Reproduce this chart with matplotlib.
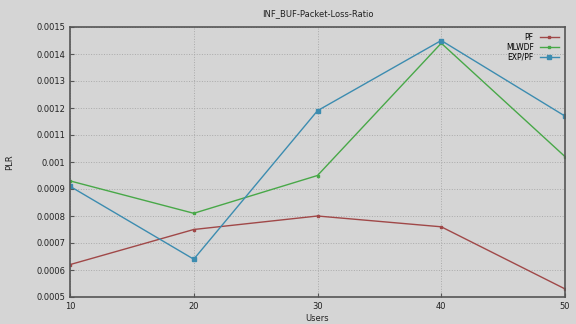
import matplotlib
matplotlib.use('Agg')
import matplotlib.pyplot as plt

users = [10, 20, 30, 40, 50]
pf = [0.00062, 0.00075, 0.00080, 0.00076, 0.00053]
mlwdf = [0.00093, 0.00081, 0.00095, 0.00144, 0.00102]
exp_pf = [0.00091, 0.00064, 0.00119, 0.00145, 0.00117]
yticks = [0.0005, 0.0006, 0.0007, 0.0008, 0.0009, 0.001, 0.0011, 0.0012, 0.0013, 0.0014, 0.0015]
ytick_labels = ['0.0005', '0.0006', '0.0007', '0.0008', '0.0009', '0.001', '0.0011', '0.0012', '0.0013', '0.0014', '0.0015']

bg = '#d5d5d5'
fig = plt.figure(figsize=(5.76, 3.24), dpi=100, facecolor=bg)
ax = fig.add_axes([70/576, 27/324, (565-70)/576, (297-27)/324])
ax.set_facecolor(bg)

ax.plot(users, pf, color='#a04848', lw=1, marker='s', ms=1.8, label='PF')
ax.plot(users, mlwdf, color='#48a848', lw=1, marker='s', ms=1.8, label='MLWDF')
ax.plot(users, exp_pf, color='#3c8cb0', lw=1, marker='s', ms=2.2, label='EXP/PF')

ax.set_xlim(10, 50)
ax.set_ylim(0.0005, 0.0015)
ax.set_xticks(users)
ax.set_yticks(yticks)
ax.set_yticklabels(ytick_labels)
ax.tick_params(labelsize=6, length=3, direction='in', color='#555555', labelcolor='#222222')
ax.grid(True, color='#aaaaaa', ls=':', lw=0.7)
for s in ax.spines.values():
    s.set_color('#555555')
    s.set_linewidth(1.2)

ax.set_title('INF_BUF-Packet-Loss-Ratio', fontsize=6, color='#222222', pad=8)
ax.set_xlabel('Users', fontsize=6, color='#222222', labelpad=2)
ax.set_ylabel('PLR', fontsize=6, color='#222222', labelpad=16)

leg = ax.legend(loc='upper right', fontsize=5.5, frameon=False, markerfirst=False,
                handlelength=2.5, labelspacing=0.1, borderaxespad=0.4)
for t in leg.get_texts():
    t.set_ha('right')

fig.savefig('out.png', dpi=100, facecolor=bg)
